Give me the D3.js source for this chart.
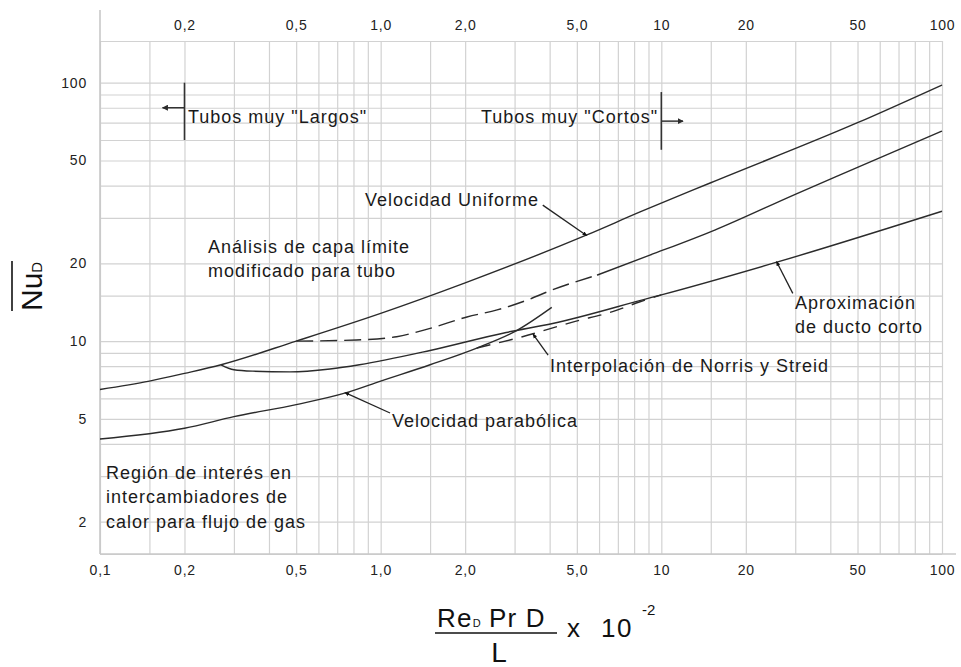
<!DOCTYPE html>
<html><head><meta charset="utf-8">
<script src="https://cdn.jsdelivr.net/npm/d3@7"></script>
<style>
html,body{margin:0;padding:0;background:#fff;}
svg{display:block;font-family:"Liberation Sans",Arial,sans-serif;}
</style></head><body>
<svg id="chart" width="961" height="667"></svg>
<script>
// ---------- data ----------
const xTickValues = [0.1, 0.2, 0.5, 1, 2, 5, 10, 20, 50, 100];
const xTickLabels = ["0,1", "0,2", "0,5", "1,0", "2,0", "5,0", "10", "20", "50", "100"];
const yTickValues = [2, 5, 10, 20, 50, 100];
const yTickLabels = ["2", "5", "10", "20", "50", "100"];
const gridMantissas = [1, 1.5, 2, 3, 4, 5, 6, 7, 8, 9];

// Velocidad uniforme
const uniformeX = [0.1, 0.15, 0.2, 0.27, 0.5, 1.0, 2.0, 5.4, 8.4, 15, 50, 100];
const uniformeY = [6.5, 7.0, 7.5, 8.1, 10, 12.8, 16.8, 25.7, 31.6, 41, 70, 98];
// Análisis de capa límite (tramo interpolado, discontinuo)
const capaDashX = [0.5, 0.82, 1.14, 1.5, 2.03, 2.6, 3.32, 4.1, 5.9];
const capaDashY = [10, 10.1, 10.4, 11.2, 12.4, 13.2, 14.4, 15.8, 18.0];
// continuación continua
const capaX = [5.9, 9.1, 15.5, 30, 50, 100];
const capaY = [18.0, 21.5, 26.9, 37, 47, 65];
// Análisis modificado para tubo / aproximación de ducto corto
const ductoX = [0.27, 0.3, 0.35, 0.475, 0.66, 0.84, 1.5, 2.8, 4.1, 9.1, 10, 25.8, 100];
const ductoY = [8.1, 7.75, 7.65, 7.6, 7.8, 8.1, 9.2, 10.8, 11.7, 14.7, 15.1, 20.2, 31.8];
// Velocidad parabólica
const parabX = [0.1, 0.2, 0.3, 0.5, 0.75, 1.0, 1.5, 2.2, 3.06, 4.07];
const parabY = [4.18, 4.6, 5.1, 5.68, 6.3, 7.0, 8.1, 9.4, 11.0, 13.5];
// Interpolación de Norris y Streid
const norrisX = [2.2, 3.2, 4.9, 6.7, 8.4, 10];
const norrisY = [9.4, 10.4, 11.9, 13.0, 14.2, 15.1];

// ---------- layout ----------
const svg = d3.select("#chart");
const pLeft = 100, pRight = 942, pTop = 41, pBottom = 554;
const x = d3.scaleLog().domain([0.1, 100]).range([pLeft, pRight]);
const y = d3.scaleLog().domain([1.5, 145]).range([pBottom, pTop]);

const xGrid = [];
[0.1, 1, 10].forEach(d => gridMantissas.forEach(m => xGrid.push(+(m * d).toPrecision(3))));
xGrid.push(100);
const yGrid = [];
[1, 10].forEach(d => gridMantissas.forEach(m => { const v = +(m * d).toPrecision(3); if (v >= 1.5) yGrid.push(v); }));
yGrid.push(100, 145);

const gridColor = "#d2d2d2";
// vertical grid
svg.append("g").attr("transform", `translate(0,${pBottom})`)
  .call(d3.axisBottom(x).tickValues(xGrid).tickSize(-(pBottom - pTop)).tickFormat(""))
  .call(g => g.select(".domain").remove())
  .call(g => g.selectAll("line").attr("stroke", gridColor).attr("stroke-width", 1.2));
// horizontal grid
svg.append("g").attr("transform", `translate(${pLeft},0)`)
  .call(d3.axisLeft(y).tickValues(yGrid).tickSize(-(pRight - pLeft)).tickFormat(""))
  .call(g => g.select(".domain").remove())
  .call(g => g.selectAll("line").attr("stroke", gridColor).attr("stroke-width", 1.2));

// axis lines
svg.append("line").attr("x1", pLeft).attr("x2", pLeft).attr("y1", 10).attr("y2", pBottom)
  .attr("stroke", "#c8c8c8").attr("stroke-width", 1.6);
svg.append("line").attr("x1", pLeft).attr("x2", 956).attr("y1", pBottom).attr("y2", pBottom)
  .attr("stroke", "#c8c8c8").attr("stroke-width", 1.6);

function styleTicks(g) {
  g.select(".domain").remove();
  g.selectAll("text").attr("fill", "#222").attr("font-size", 14)
    .attr("letter-spacing", "0.8px").attr("font-family", '"Liberation Sans",Arial,sans-serif');
}
svg.append("g").attr("transform", `translate(0,${pBottom})`)
  .call(d3.axisBottom(x).tickValues(xTickValues).tickSize(0).tickPadding(11)
    .tickFormat((d, i) => xTickLabels[i]))
  .call(styleTicks);
svg.append("g").attr("transform", `translate(0,${pTop})`)
  .call(d3.axisTop(x).tickValues(xTickValues.slice(1)).tickSize(0).tickPadding(11)
    .tickFormat((d, i) => xTickLabels[i + 1]))
  .call(styleTicks);
svg.append("g").attr("transform", `translate(${pLeft},0)`)
  .call(d3.axisLeft(y).tickValues(yTickValues).tickSize(0).tickPadding(13)
    .tickFormat((d, i) => yTickLabels[i]))
  .call(styleTicks);

// ---------- curves ----------
const line = d3.line().x(d => x(d[0])).y(d => y(d[1])).curve(d3.curveMonotoneX);
const ink = "#2b2b2b";
function curve(xs, ys, dash) {
  svg.append("path").datum(d3.zip(xs, ys)).attr("d", line)
    .attr("fill", "none").attr("stroke", ink).attr("stroke-width", 1.4)
    .attr("stroke-dasharray", dash || null);
}
curve(uniformeX, uniformeY);
curve(capaDashX, capaDashY, "17,7");
curve(capaX, capaY);
curve(ductoX, ductoY);
curve(parabX, parabY);
curve(norrisX, norrisY, "14,9");

// ---------- annotations ----------
const defs = svg.append("defs");
defs.append("marker").attr("id", "tri").attr("viewBox", "0 0 10 10")
  .attr("refX", 9).attr("refY", 5).attr("markerWidth", 6).attr("markerHeight", 6)
  .attr("markerUnits", "userSpaceOnUse").attr("orient", "auto")
  .append("path").attr("d", "M0,0L10,5L0,10Z").attr("fill", ink);
defs.append("marker").attr("id", "dot").attr("viewBox", "0 0 10 10")
  .attr("refX", 7).attr("refY", 5).attr("markerWidth", 5).attr("markerHeight", 5)
  .attr("markerUnits", "userSpaceOnUse").attr("orient", "auto")
  .append("path").attr("d", "M0,1L10,5L0,9Z").attr("fill", "#111");

// leaders: [fromX, fromY, toX, toY] in data units
const leaders = [
  [3.78, 33.6, 5.4, 25.7],
  [29.4, 15.3, 25.8, 20.2],
  [3.95, 8.83, 3.5, 10.6],
  [1.08, 5.27, 0.75, 6.3]
];
leaders.forEach(l => {
  svg.append("line").attr("x1", x(l[0])).attr("y1", y(l[1]))
    .attr("x2", x(l[2])).attr("y2", y(l[3]))
    .attr("stroke", "#222").attr("stroke-width", 1.3).attr("marker-end", "url(#dot)");
});

// "Tubos" markers
const markers = [
  {x: 0.2, y1: 100, y2: 60, ay: 80, ax: 0.167},
  {x: 10, y1: 92, y2: 55, ay: 71, ax: 11.95}
];
markers.forEach(m => {
  svg.append("line").attr("x1", x(m.x)).attr("x2", x(m.x)).attr("y1", y(m.y1)).attr("y2", y(m.y2))
    .attr("stroke", "#333").attr("stroke-width", 1.6);
  svg.append("line").attr("x1", x(m.x)).attr("x2", x(m.ax)).attr("y1", y(m.ay)).attr("y2", y(m.ay))
    .attr("stroke", "#333").attr("stroke-width", 1.5).attr("marker-end", "url(#tri)");
});

function label(lines, px, py, lh) {
  const t = svg.append("text").attr("x", px).attr("y", py)
    .attr("font-size", 18).attr("letter-spacing", "1px").attr("fill", "#1a1a1a");
  lines.forEach((s, i) => t.append("tspan").attr("x", px).attr("dy", i ? lh : 0).text(s));
}
label(['Tubos muy "Largos"'], 188, 123);
label(['Tubos muy "Cortos"'], 481, 123);
label(["Velocidad Uniforme"], 365, 206);
label(["Análisis de capa límite", "modificado para tubo"], 208, 253, 24);
label(["Interpolación de Norris y Streid"], 550, 372);
label(["Velocidad parabólica"], 392, 427);
label(["Aproximación", "de ducto corto"], 795, 309, 24);
label(["Región de interés en", "intercambiadores de", "calor para flujo de gas"], 106, 479, 24.4);

// ---------- axis titles ----------
// y title: Nu_D with overline
const yt = svg.append("text").attr("transform", "translate(42,311) rotate(-90)")
  .attr("fill", "#111");
yt.append("tspan").attr("font-size", 30).text("Nu");
yt.append("tspan").attr("font-size", 15).text("D");
svg.append("line").attr("x1", 12).attr("x2", 12).attr("y1", 261).attr("y2", 311)
  .attr("stroke", "#111").attr("stroke-width", 1.6);

// x title: fraction
const num = svg.append("text").attr("x", 437).attr("y", 627).attr("fill", "#111")
  .attr("letter-spacing", "1.2px");
num.append("tspan").attr("font-size", 26).text("Re");
num.append("tspan").attr("font-size", 11).attr("letter-spacing", "0px").text("D");
num.append("tspan").attr("font-size", 26).text(" Pr D");
svg.append("line").attr("x1", 435).attr("x2", 557).attr("y1", 633).attr("y2", 633)
  .attr("stroke", "#111").attr("stroke-width", 1.5);
svg.append("text").attr("x", 499).attr("y", 662).attr("text-anchor", "middle")
  .attr("font-size", 28).attr("fill", "#111").text("L");
svg.append("text").attr("x", 567).attr("y", 637).attr("font-size", 26).attr("fill", "#111").text("x");
svg.append("text").attr("x", 601).attr("y", 637).attr("font-size", 26).attr("fill", "#111")
  .attr("letter-spacing", "1.5px").text("10");
svg.append("text").attr("x", 642).attr("y", 615).attr("font-size", 15).attr("fill", "#111").text("-2");
</script>
</body></html>
